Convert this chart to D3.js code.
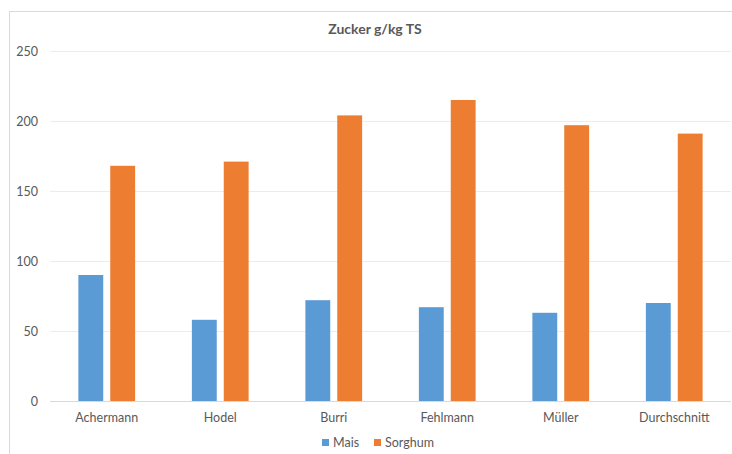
<!DOCTYPE html>
<html>
<head>
<meta charset="utf-8">
<script src="https://cdn.jsdelivr.net/npm/d3@7"></script>
<style>
  html, body { margin: 0; padding: 0; background: #fff; }
  svg text { font-family: Lato, "Open Sans", sans-serif; fill: #595959; }
</style>
</head>
<body>
<svg id="chart" width="732" height="454"></svg>
<script>
// Sugar content (g/kg dry matter) per farm
const categories = ["Achermann", "Hodel", "Burri", "Fehlmann", "Müller", "Durchschnitt"];
const seriesNames = ["Mais", "Sorghum"];
const maisValues = [90, 58, 72, 67, 63, 70];
const sorghumValues = [168, 171, 204, 215, 197, 191];
const yTicks = [0, 50, 100, 150, 200, 250];
const colors = ["#5B9BD5", "#ED7D31"];

const rows = categories.map((c, i) => ({ name: c, values: [maisValues[i], sorghumValues[i]] }));

const svg = d3.select("#chart");

// outer chart frame
svg.append("rect")
  .attr("x", 9.5).attr("y", 11.5)
  .attr("width", 740).attr("height", 460)
  .attr("fill", "#fff").attr("stroke", "#d9d9d9");

const plot = { left: 50, right: 731, top: 51, bottom: 401 };

const x = d3.scaleBand().domain(categories)
  .range([plot.left, plot.right])
  .paddingInner(0.5).paddingOuter(0.25);
const xSub = d3.scaleBand().domain(seriesNames)
  .range([0, x.bandwidth()])
  .paddingInner(0.22);
const y = d3.scaleLinear().domain([0, 250]).range([plot.bottom, plot.top]);

// horizontal gridlines
svg.append("g")
  .selectAll("line").data(yTicks).join("line")
  .attr("x1", plot.left).attr("x2", plot.right)
  .attr("y1", d => Math.round(y(d)) + 0.5).attr("y2", d => Math.round(y(d)) + 0.5)
  .attr("stroke", d => d === 0 ? "#d9d9d9" : "#ececec")
  .attr("stroke-width", 1);

// y axis labels
const yAxis = d3.axisLeft(y).tickValues(yTicks).tickSize(0).tickPadding(0);
svg.append("g")
  .attr("transform", `translate(38,0)`)
  .call(yAxis)
  .call(g => g.select(".domain").remove())
  .call(g => g.selectAll("text").attr("font-size", 12.5).style("font-family", "Lato, sans-serif").attr("fill", "#595959"));

// bars
const groups = svg.append("g").selectAll("g").data(rows).join("g")
  .attr("transform", d => `translate(${x(d.name)},0)`);
groups.selectAll("rect")
  .data(d => d.values.map((v, i) => ({ key: seriesNames[i], value: v, idx: i })))
  .join("rect")
  .attr("x", d => xSub(d.key))
  .attr("y", d => y(d.value))
  .attr("width", xSub.bandwidth())
  .attr("height", d => y(0) - y(d.value))
  .attr("fill", d => colors[d.idx]);

// category axis labels
const xAxis = d3.axisBottom(x).tickSize(0).tickPadding(0);
svg.append("g")
  .attr("transform", `translate(0,${plot.bottom + 12})`)
  .call(xAxis)
  .call(g => g.select(".domain").remove())
  .call(g => g.selectAll("text").attr("font-size", 12.5).style("font-family", "Lato, sans-serif").attr("fill", "#595959").attr("dy", "0.71em"));

// title
svg.append("text")
  .attr("x", 375).attr("y", 34)
  .attr("text-anchor", "middle")
  .attr("font-size", 14).attr("font-weight", "bold")
  .text("Zucker g/kg TS");

// legend
const legend = svg.append("g").attr("transform", "translate(322,443)");
const legendX = [0, 52];
seriesNames.forEach((s, i) => {
  const item = legend.append("g").attr("transform", `translate(${legendX[i]},0)`);
  item.append("rect").attr("x", 0).attr("y", -4).attr("width", 7).attr("height", 7).attr("fill", colors[i]);
  item.append("text").attr("x", 11).attr("y", 0).attr("dy", "0.35em")
    .attr("font-size", 12.5).text(s);
});
</script>
</body>
</html>
